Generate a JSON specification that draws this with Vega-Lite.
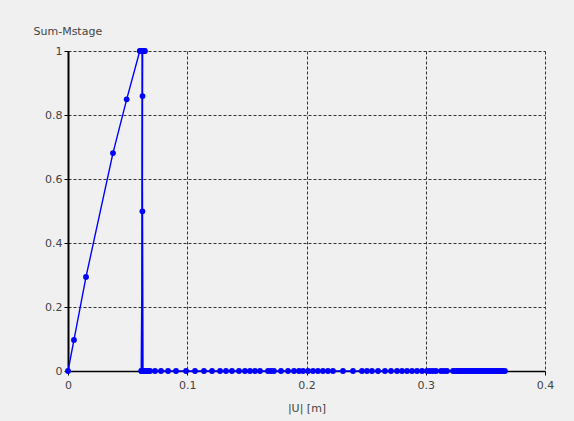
{
  "$schema": "https://vega.github.io/schema/vega-lite/v6.json",
  "width": 477,
  "height": 320,
  "autosize": {"type": "none"},
  "padding": {"left": 68, "top": 51, "right": 29, "bottom": 50},
  "background": "#f0f0f0",
  "config": {
    "view": {"stroke": null},
    "font": "DejaVu Sans",
    "axis": {
      "labelFont": "DejaVu Sans",
      "titleFont": "DejaVu Sans",
      "labelFontSize": 11,
      "titleFontSize": 11,
      "titleFontWeight": "normal",
      "labelColor": "#444444",
      "titleColor": "#444444",
      "labelFlush": false,
      "domainColor": "#000000",
      "domainWidth": 1.5,
      "tickColor": "#000000",
      "tickSize": 4,
      "gridColor": "#333333",
      "gridDash": [3, 2],
      "gridWidth": 1,
      "gridOpacity": 1
    }
  },
  "data": {
    "values": [
      {"i": 1, "u": 0, "m": 0},
      {"i": 2, "u": 0.005, "m": 0.097},
      {"i": 3, "u": 0.0151, "m": 0.294},
      {"i": 4, "u": 0.0377, "m": 0.681},
      {"i": 5, "u": 0.0492, "m": 0.849},
      {"i": 6, "u": 0.0602, "m": 1},
      {"i": 7, "u": 0.061, "m": 1},
      {"i": 8, "u": 0.0618, "m": 1},
      {"i": 9, "u": 0.0632, "m": 1},
      {"i": 10, "u": 0.0639, "m": 1},
      {"i": 11, "u": 0.0645, "m": 1},
      {"i": 12, "u": 0.0626, "m": 1},
      {"i": 13, "u": 0.0625, "m": 0.859},
      {"i": 14, "u": 0.0624, "m": 0.499},
      {"i": 15, "u": 0.0614, "m": 0},
      {"i": 16, "u": 0.0618, "m": 0},
      {"i": 17, "u": 0.0621, "m": 1},
      {"i": 18, "u": 0.0629, "m": 0},
      {"i": 19, "u": 0.0638, "m": 0},
      {"i": 20, "u": 0.0654, "m": 0},
      {"i": 21, "u": 0.0671, "m": 0},
      {"i": 22, "u": 0.0688, "m": 0},
      {"i": 23, "u": 0.073, "m": 0},
      {"i": 24, "u": 0.078, "m": 0},
      {"i": 25, "u": 0.0839, "m": 0},
      {"i": 26, "u": 0.0906, "m": 0},
      {"i": 27, "u": 0.099, "m": 0},
      {"i": 28, "u": 0.1065, "m": 0},
      {"i": 29, "u": 0.114, "m": 0},
      {"i": 30, "u": 0.1208, "m": 0},
      {"i": 31, "u": 0.1275, "m": 0},
      {"i": 32, "u": 0.1325, "m": 0},
      {"i": 33, "u": 0.1375, "m": 0},
      {"i": 34, "u": 0.1434, "m": 0},
      {"i": 35, "u": 0.1484, "m": 0},
      {"i": 36, "u": 0.1526, "m": 0},
      {"i": 37, "u": 0.1568, "m": 0},
      {"i": 38, "u": 0.161, "m": 0},
      {"i": 39, "u": 0.1677, "m": 0},
      {"i": 40, "u": 0.1702, "m": 0},
      {"i": 41, "u": 0.1727, "m": 0},
      {"i": 42, "u": 0.1786, "m": 0},
      {"i": 43, "u": 0.1845, "m": 0},
      {"i": 44, "u": 0.1895, "m": 0},
      {"i": 45, "u": 0.1937, "m": 0},
      {"i": 46, "u": 0.1971, "m": 0},
      {"i": 47, "u": 0.2013, "m": 0},
      {"i": 48, "u": 0.2055, "m": 0},
      {"i": 49, "u": 0.2096, "m": 0},
      {"i": 50, "u": 0.2138, "m": 0},
      {"i": 51, "u": 0.218, "m": 0},
      {"i": 52, "u": 0.2222, "m": 0},
      {"i": 53, "u": 0.2306, "m": 0},
      {"i": 54, "u": 0.239, "m": 0},
      {"i": 55, "u": 0.2465, "m": 0},
      {"i": 56, "u": 0.2507, "m": 0},
      {"i": 57, "u": 0.2549, "m": 0},
      {"i": 58, "u": 0.26, "m": 0},
      {"i": 59, "u": 0.2658, "m": 0},
      {"i": 60, "u": 0.2709, "m": 0},
      {"i": 61, "u": 0.2759, "m": 0},
      {"i": 62, "u": 0.2801, "m": 0},
      {"i": 63, "u": 0.2843, "m": 0},
      {"i": 64, "u": 0.2885, "m": 0},
      {"i": 65, "u": 0.2927, "m": 0},
      {"i": 66, "u": 0.2969, "m": 0},
      {"i": 67, "u": 0.301, "m": 0},
      {"i": 68, "u": 0.3036, "m": 0},
      {"i": 69, "u": 0.3061, "m": 0},
      {"i": 70, "u": 0.3086, "m": 0},
      {"i": 71, "u": 0.3128, "m": 0},
      {"i": 72, "u": 0.3153, "m": 0},
      {"i": 73, "u": 0.3178, "m": 0},
      {"i": 74, "u": 0.3229, "m": 0},
      {"i": 75, "u": 0.3245, "m": 0},
      {"i": 76, "u": 0.3262, "m": 0},
      {"i": 77, "u": 0.3279, "m": 0},
      {"i": 78, "u": 0.3296, "m": 0},
      {"i": 79, "u": 0.3312, "m": 0},
      {"i": 80, "u": 0.3329, "m": 0},
      {"i": 81, "u": 0.3346, "m": 0},
      {"i": 82, "u": 0.3363, "m": 0},
      {"i": 83, "u": 0.3379, "m": 0},
      {"i": 84, "u": 0.3396, "m": 0},
      {"i": 85, "u": 0.3413, "m": 0},
      {"i": 86, "u": 0.343, "m": 0},
      {"i": 87, "u": 0.3446, "m": 0},
      {"i": 88, "u": 0.3463, "m": 0},
      {"i": 89, "u": 0.348, "m": 0},
      {"i": 90, "u": 0.3497, "m": 0},
      {"i": 91, "u": 0.3514, "m": 0},
      {"i": 92, "u": 0.353, "m": 0},
      {"i": 93, "u": 0.3547, "m": 0},
      {"i": 94, "u": 0.3564, "m": 0},
      {"i": 95, "u": 0.3581, "m": 0},
      {"i": 96, "u": 0.3597, "m": 0},
      {"i": 97, "u": 0.3614, "m": 0},
      {"i": 98, "u": 0.3631, "m": 0},
      {"i": 99, "u": 0.3648, "m": 0},
      {"i": 100, "u": 0.3664, "m": 0}
    ]
  },
  "encoding": {
    "x": {
      "field": "u",
      "type": "quantitative",
      "scale": {"domain": [0, 0.4], "nice": false, "zero": false},
      "axis": {
        "title": "|U| [m]",
        "values": [0, 0.1, 0.2, 0.3, 0.4],
        "format": "~g",
        "labelPadding": 4,
        "titlePadding": 12
      }
    },
    "y": {
      "field": "m",
      "type": "quantitative",
      "scale": {"domain": [0, 1], "nice": false},
      "axis": {
        "title": "Sum-Mstage",
        "values": [0, 0.2, 0.4, 0.6, 0.8, 1],
        "format": "~g",
        "domainWidth": 2,
        "labelPadding": 2,
        "titleAngle": 0,
        "titleAlign": "left",
        "titleBaseline": "alphabetic",
        "titleX": -35,
        "titleY": -17
      }
    }
  },
  "layer": [
    {
      "mark": {"type": "line", "color": "#0000ff", "strokeWidth": 1.4, "clip": false},
      "encoding": {"order": {"field": "i", "type": "quantitative"}}
    },
    {
      "mark": {"type": "point", "shape": "circle", "filled": true, "color": "#0000ff", "size": 34, "opacity": 1}
    }
  ]
}
